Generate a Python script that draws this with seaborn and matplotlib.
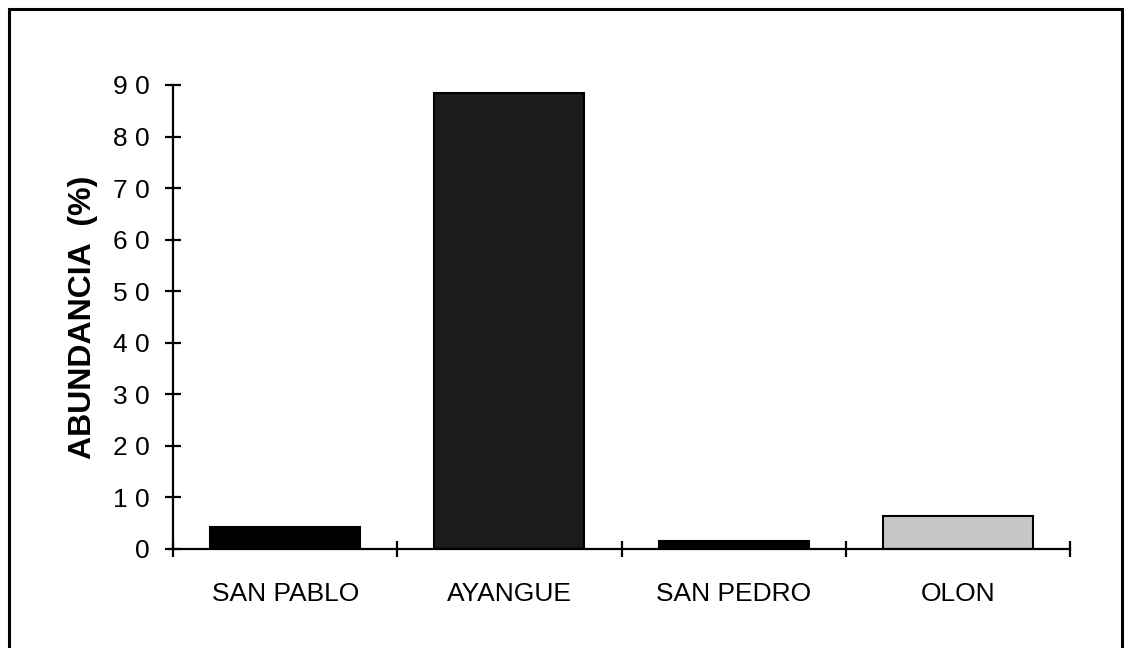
import matplotlib
matplotlib.use("Agg")
import matplotlib.pyplot as plt
from matplotlib.patches import Rectangle
import seaborn as sns
import pandas as pd

# data
sites = ['SAN PABLO', 'AYANGUE', 'SAN PEDRO', 'OLON']
abundance = [4.3, 88.5, 1.5, 6.4]
bar_colors = ['#000000', '#1b1b1b', '#000000', '#c6c6c6']
yticks = [0, 10, 20, 30, 40, 50, 60, 70, 80, 90]

df = pd.DataFrame({'Site': sites, 'Abundancia': abundance})

sns.set_theme(style="white", rc={'text.color': 'black', 'axes.labelcolor': 'black',
                                 'xtick.color': 'black', 'ytick.color': 'black'})
plt.rcParams['font.family'] = ['Liberation Sans', 'DejaVu Sans']

fig = plt.figure(figsize=(11.31, 6.48), dpi=100)
ax = fig.add_axes([173 / 1131, 1 - 549 / 648, (1070 - 173) / 1131, (549 - 85) / 648])

sns.barplot(data=df, x='Site', y='Abundancia', hue='Site', palette=bar_colors,
            legend=False, width=0.67, ax=ax, saturation=1)
for patch in ax.patches:
    patch.set_edgecolor('black')
    patch.set_linewidth(1.5)

ax.set_xlim(-0.5, len(sites) - 0.5)
ax.set_ylim(0, 90)
ax.set_yticks(yticks)
ax.set_yticklabels([' '.join(str(v)) for v in yticks], fontsize=19)
ax.set_xticks(range(len(sites)))
ax.set_xticklabels(sites, fontsize=19)
ax.set_xticks([i - 0.5 for i in range(len(sites) + 1)], minor=True)

ax.tick_params(axis='x', which='major', length=0, pad=24)
ax.tick_params(axis='x', which='minor', direction='inout', length=12, width=1.6,
               color='black', bottom=True)
ax.tick_params(axis='y', direction='inout', length=12, width=1.6, color='black',
               pad=11, left=True)

ax.set_xlabel('')
ax.set_ylabel('ABUNDANCIA  (%)', fontsize=23, fontweight='bold')
ax.yaxis.set_label_coords((98 - 173) / 897, 0.5)

for side in ['top', 'right']:
    ax.spines[side].set_visible(False)
for side in ['left', 'bottom']:
    ax.spines[side].set_color('black')
    ax.spines[side].set_linewidth(1.6)

# outer frame of the scanned figure (bottom edge falls outside the page)
fig.patches.append(Rectangle((9 / 1131, -0.05), (1122 - 9) / 1131, 1.05 - 9 / 648,
                             transform=fig.transFigure, fill=False,
                             edgecolor='black', linewidth=2.2))

fig.savefig('out.png', dpi=100)
